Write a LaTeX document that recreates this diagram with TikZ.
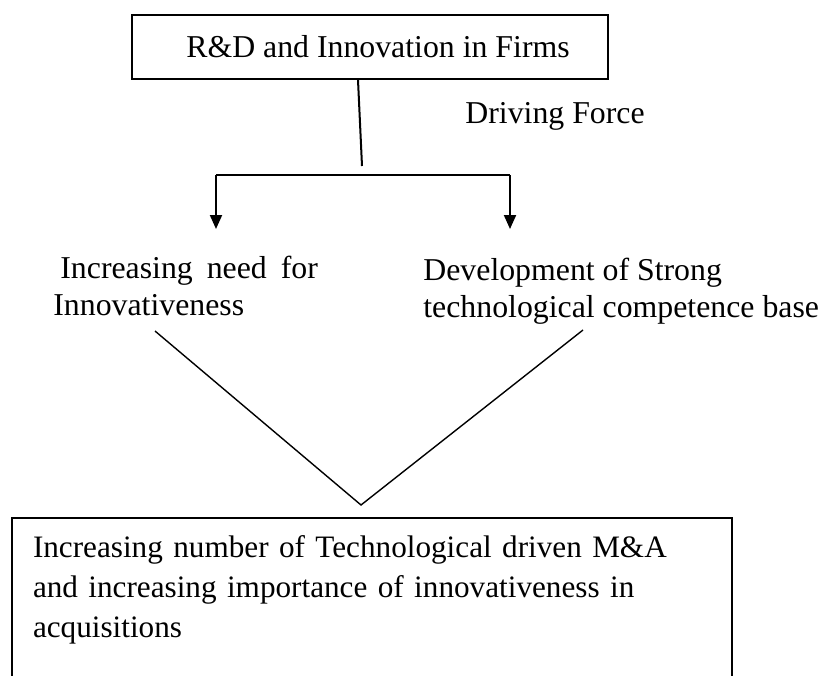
\documentclass[tikz,border=0pt]{standalone}
\usepackage{fontspec}
\setmainfont{Liberation Serif}
\usetikzlibrary{arrows.meta}

\begin{document}
\begin{tikzpicture}[x=0.5pt,y=-0.5pt,
  every node/.style={font=\fontsize{15.9}{20}\selectfont},
  box/.style={draw,line width=1pt},
  note/.style={inner xsep=0pt,anchor=base west,align=left,font=\fontsize{15.9}{18.5}\selectfont},
  link/.style={line width=1pt},
  flow/.style={line width=1pt,-{Triangle[width=6pt,length=7pt]}},
  vee/.style={line width=0.7pt}]
\useasboundingbox (0,0) rectangle (824,675);
\clip (0,0) rectangle (824,675);

\node[box,minimum width=238pt,minimum height=32pt] (rd) at (370,47) {\hspace{8pt}R\&D and Innovation in Firms};
\node[note] (force) at (465,123) {Driving Force};

\coordinate (fork) at (362,166);
\coordinate (left) at (216,175);
\coordinate (right) at (510,175);
\coordinate (lefttip) at (216,229);
\coordinate (righttip) at (510,229);
\draw[link] ([xshift=-6pt]rd.south) -- (fork);
\draw[link] (left) -- (right);
\draw[flow] (left) -- (lefttip);
\draw[flow] (right) -- (righttip);

% base anchor sits on the last line
\node[note] (need) at (53,315)
  {\hspace{3.5pt}Increasing\hspace{7pt}need\hspace{7pt}for\\Innovativeness};
\node[note] (base) at (423,317)
  {Development of Strong\\technological competence base};

\coordinate (needfoot) at (155,331);
\coordinate (basefoot) at (583,330);
\coordinate (apex) at (361,505);
\draw[vee] (needfoot) -- (apex) -- (basefoot);

\node[box,anchor=north west,minimum width=360pt,text width=339pt,inner xsep=10.5pt,inner ysep=9pt,align=left,
  font=\fontsize{15.6}{20}\selectfont] (ma) at (11,517)
  {Increasing number of Technological driven M\&A\\and increasing importance of innovativeness in\\acquisitions\\\mbox{}};
\end{tikzpicture}
\end{document}
